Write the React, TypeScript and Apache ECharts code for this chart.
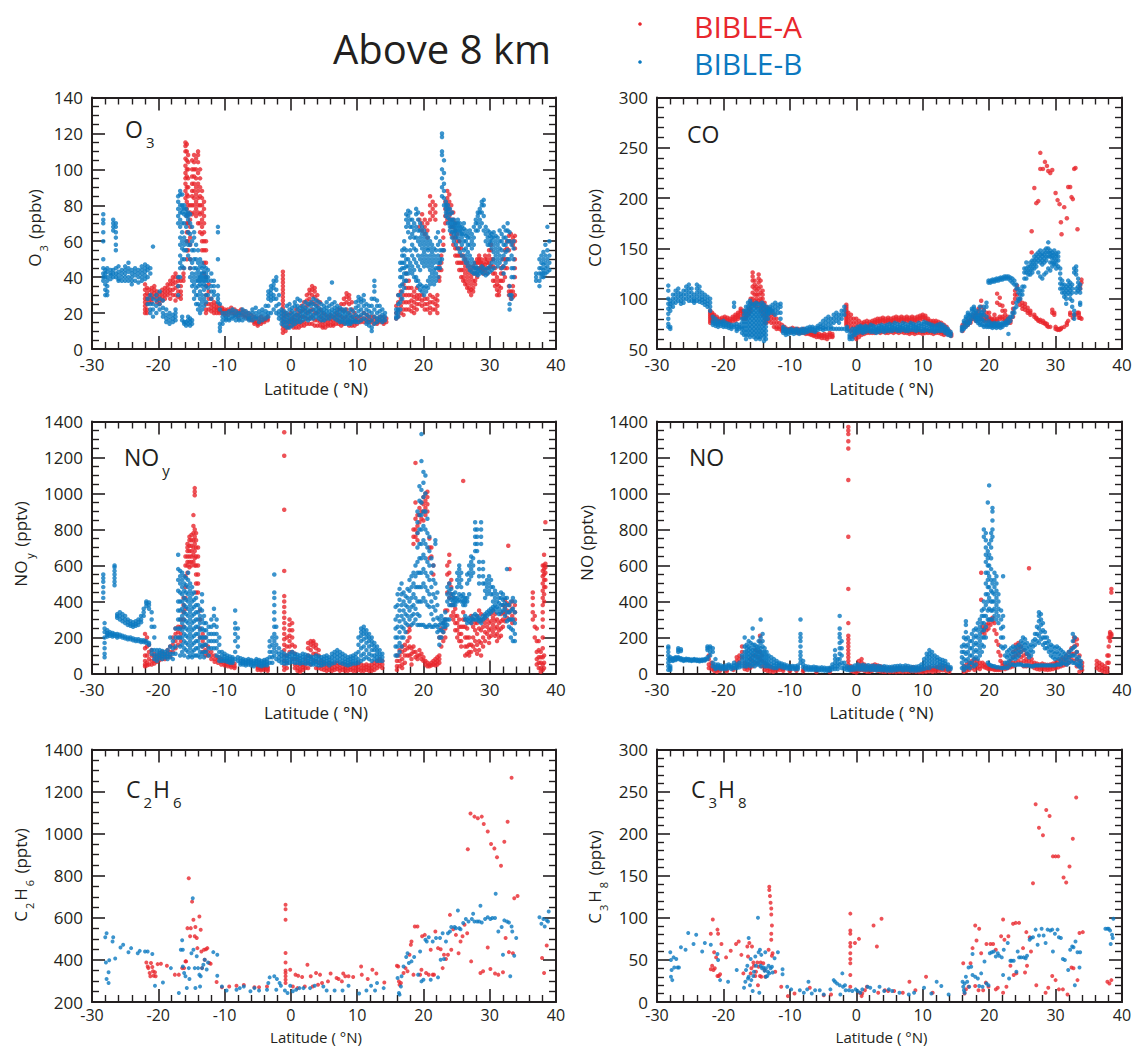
import { useEffect, useRef } from 'react';
import * as echarts from 'echarts';

type Column = [number, number[]];
type Pt = [number, number];

const RED = '#e8272d';
const BLUE = '#0b79c0';
const INK = '#231f20';
const FONT = '"Open Sans", "Noto Sans", sans-serif';

const latTicks = { min: -30, max: 40, step: 10 };

// ---------- O3 (ppbv): latitude -> readings ----------
const o3A: Column[] = [
  [-22.0, [36, 33, 30, 28, 26, 24, 22, 20]], [-21.7, [34, 31, 28, 25, 22, 20]], [-21.4, [33, 30, 28, 26]],
  [-21.0, [34, 32, 30, 28, 26]], [-20.6, [35, 33, 31, 29]], [-20.2, [32, 30, 28, 26]], [-19.8, [31, 29, 27, 25]],
  [-19.4, [33, 31, 29, 27]], [-19.0, [34, 32, 30, 28]], [-18.6, [36, 34, 32, 30]], [-18.2, [38, 36, 33, 31, 28]],
  [-17.8, [40, 38, 36, 33, 30]], [-17.4, [42, 40, 37, 34, 30, 27]], [-17.0, [40, 38, 35, 32, 29]],
  [-16.6, [38, 35, 32, 30, 28]], [-16.2, [45, 42, 40, 38]],
  [-15.9, [115, 113, 110, 106, 102, 98, 95, 92, 88, 84]],
  [-15.7, [114, 110, 105, 100, 96, 90, 86, 82, 78, 74, 70, 65, 60, 55, 50]],
  [-15.5, [108, 104, 100, 95, 90, 85, 80, 75, 70, 65, 60, 55]], [-15.2, [80, 76, 72, 68, 62, 58, 50, 45]],
  [-14.9, [105, 100, 96, 92, 88, 85, 80, 75]], [-14.6, [108, 104, 100, 96, 92, 88, 84, 80, 76]],
  [-14.3, [106, 100, 95, 90, 86, 82, 78, 74]], [-14.0, [110, 108, 104, 98, 92, 88, 84, 80, 76, 70]],
  [-13.7, [100, 95, 90, 85, 80, 75, 70, 65]], [-13.4, [88, 84, 80, 76, 72, 68, 64, 60, 55]],
  [-13.1, [82, 78, 74, 70, 65, 60, 55, 48, 42]], [-12.8, [60, 55, 48, 40, 35, 30, 25, 22, 20]],
  [-12.4, [36, 32, 28, 25, 22]], [-12.0, [28, 25, 23, 21]], [-11.6, [26, 24, 22, 20]], [-11.2, [25, 23, 22, 20]],
  [-10.8, [24, 22, 21, 20]], [-10.4, [23, 22, 21, 20]], [-10.0, [22, 21, 20, 19]], [-9.5, [22, 21, 19]],
  [-9.0, [23, 21, 20]], [-8.5, [22, 20, 19]], [-8.0, [21, 20, 18]], [-7.5, [22, 20, 19]], [-7.0, [21, 19, 18]],
  [-6.5, [20, 18, 17]], [-6.0, [19, 17, 16]], [-5.5, [18, 16, 15, 14]], [-5.0, [17, 15, 14, 13]],
  [-4.5, [18, 16, 15, 14]], [-4.0, [17, 16, 15]], [-3.5, [18, 17, 16]],
  [-1.2, [43, 41, 39, 37, 35, 33, 31, 29, 27, 25, 23, 21, 19, 17, 15, 13, 11, 9]],
  [-0.8, [20, 18, 15, 12, 10]], [-0.4, [19, 16, 14, 12]], [0.0, [20, 17, 15, 13]], [0.4, [18, 16, 14, 12]],
  [0.8, [22, 19, 16, 14, 12]], [1.2, [20, 18, 16, 14, 12]], [1.6, [24, 21, 18, 15, 13]], [2.0, [26, 22, 18, 15, 13]],
  [2.4, [30, 27, 24, 20, 17, 14]], [2.8, [33, 31, 28, 25, 21, 17, 14]], [3.2, [35, 33, 30, 26, 22, 18, 14]],
  [3.6, [34, 32, 29, 25, 20, 16, 13]], [4.0, [30, 27, 24, 20, 16, 13]], [4.4, [26, 22, 18, 15, 13]],
  [4.8, [20, 17, 15, 13, 12]], [5.2, [19, 16, 14, 12]], [5.6, [18, 16, 14, 13]], [6.0, [19, 17, 15, 13]],
  [6.4, [18, 16, 14, 13]], [6.8, [20, 18, 16, 14]], [7.2, [22, 19, 16, 14]], [7.6, [25, 22, 18, 15, 13]],
  [8.0, [28, 25, 21, 17, 14]], [8.4, [31, 29, 26, 22, 18, 15]], [8.8, [30, 28, 25, 20, 16, 13]],
  [9.2, [26, 22, 18, 15, 13]], [9.6, [20, 17, 15, 13]], [10.0, [18, 16, 14]], [10.5, [18, 16, 15]],
  [11.0, [20, 17, 15]], [11.5, [19, 17, 15]], [12.0, [18, 16, 15]], [12.5, [18, 16, 14]], [13.0, [17, 15, 14]],
  [13.5, [18, 16, 15]], [14.0, [18, 16, 15, 14]], [14.4, [17, 15]],
  [15.9, [24, 20, 17]], [16.2, [30, 26, 22, 18]], [16.6, [32, 28, 24, 20]], [17.0, [36, 30, 26, 22, 19]],
  [17.4, [42, 38, 34, 30, 26, 22]], [17.8, [38, 34, 30, 26, 22]], [18.2, [34, 30, 27, 24, 21]],
  [18.6, [32, 29, 26, 23, 20]], [19.0, [34, 30, 28, 25, 22]], [19.4, [72, 68, 30, 28, 25]],
  [19.8, [75, 70, 66, 30, 27, 24]], [20.2, [72, 68, 64, 28, 25, 22]], [20.6, [70, 66, 62, 28, 25, 22]],
  [21.0, [85, 80, 76, 72, 30, 26, 23, 20]], [21.4, [82, 78, 74, 29, 26, 22]], [21.8, [80, 76, 72, 28, 25, 22]],
  [22.1, [30, 27, 24, 20]], [22.4, [46, 44, 40, 38]], [22.7, [52, 48, 44]], [23.0, [66, 62, 58, 55]],
  [23.3, [82, 78, 74, 70]], [23.6, [88, 84, 80, 76, 72]], [23.9, [86, 82, 78, 74]], [24.2, [80, 76, 72, 68, 64]],
  [24.5, [76, 72, 68, 62, 58]], [24.8, [70, 66, 62, 56, 52]], [25.1, [64, 60, 56, 52, 48]],
  [25.4, [60, 56, 52, 48, 44]], [25.7, [56, 52, 48, 44, 40]], [26.0, [52, 48, 44, 40, 38]],
  [26.3, [50, 46, 42, 38, 36]], [26.6, [48, 44, 40, 36, 34]], [26.9, [46, 42, 38, 34, 32]],
  [27.2, [44, 40, 36, 33, 30]], [27.5, [46, 42, 38, 34, 32]], [27.8, [48, 45, 42, 38, 36]],
  [28.1, [50, 48, 45, 42, 40]], [28.4, [52, 50, 48, 45]], [28.7, [50, 48, 46, 44]], [29.0, [48, 46, 44, 42]],
  [29.3, [52, 50, 47, 44]], [29.6, [50, 48, 45, 42]], [29.9, [55, 52, 48, 45]], [30.2, [58, 55, 50, 46]],
  [30.5, [50, 46, 42, 38]], [30.8, [45, 42, 38, 35]], [31.1, [40, 36, 33, 30]], [31.4, [38, 35, 32, 30]],
  [31.7, [45, 42, 38, 34]], [32.0, [50, 46, 42, 38]], [32.3, [55, 50, 45, 40]], [32.6, [60, 56, 50, 45]],
  [32.9, [63, 60, 55, 35, 32, 30]], [33.2, [64, 60, 32, 30, 28]], [33.5, [62, 58, 35, 32, 29]],
  [33.8, [63, 60, 56, 50, 45, 40, 30]],
];

const o3B: Column[] = [
  [-28.3, [75, 72, 70, 65, 60, 50, 45, 42, 40, 38]], [-28.0, [44, 42, 40, 36, 33, 30]],
  [-27.7, [45, 43, 40, 38, 35, 32, 30]], [-27.2, [44, 42, 41, 39]], [-26.8, [72, 70, 68, 66, 44, 42, 40]],
  [-26.4, [70, 68, 65, 62, 58, 55, 45, 42, 40]], [-26.0, [46, 43, 41, 39, 38]], [-25.5, [44, 42, 40, 38]],
  [-25.0, [46, 44, 42, 40, 38]], [-24.5, [48, 45, 43, 40, 38]], [-24.0, [44, 42, 40, 38, 36]],
  [-23.5, [45, 43, 41, 38]], [-23.0, [44, 42, 40, 37]], [-22.5, [46, 44, 42, 40, 38]],
  [-22.0, [47, 45, 43, 41, 39]], [-21.6, [46, 44, 40, 28, 25]], [-21.2, [45, 42, 30, 25, 22, 20]],
  [-20.8, [57, 28, 25, 22, 18]], [-20.3, [30, 27, 24, 20]], [-19.8, [32, 28, 25, 22]], [-19.3, [27, 23, 20, 18]],
  [-18.8, [22, 19, 17, 15]], [-18.3, [20, 18, 16, 14]], [-17.8, [19, 17, 15]], [-17.4, [22, 20, 18, 16]],
  [-17.0, [85, 82, 78, 74, 70, 40, 35, 30]], [-16.7, [88, 86, 80, 76, 72, 68, 62, 58, 52, 48, 45, 40]],
  [-16.4, [86, 80, 78, 76, 70, 65, 60, 56, 50, 46, 18, 16]],
  [-16.1, [80, 78, 75, 70, 62, 58, 55, 50, 45, 15, 14]], [-15.8, [78, 76, 74, 68, 60, 55, 15, 13]],
  [-15.5, [76, 74, 72, 65, 58, 52, 18, 16, 14]], [-15.2, [75, 70, 64, 58, 50, 45, 40, 17, 15, 13]],
  [-14.9, [68, 60, 55, 48, 42, 38, 35, 16, 14]], [-14.6, [65, 62, 55, 50, 45, 40, 36, 32, 28]],
  [-14.3, [58, 50, 45, 42, 38, 34, 30, 25]], [-14.0, [55, 48, 44, 40, 38, 35, 30, 25, 22]],
  [-13.7, [50, 46, 42, 40, 38, 36, 32, 28, 24, 20]], [-13.4, [48, 45, 42, 40, 38, 35, 30, 26, 22]],
  [-13.1, [46, 43, 40, 38, 36, 33, 28, 24]], [-12.8, [45, 42, 40, 38, 35, 30, 26]],
  [-12.5, [44, 40, 38, 34, 30]], [-12.0, [42, 38, 35, 32, 28]], [-11.6, [38, 35, 32, 30]],
  [-11.0, [68, 65, 50, 35, 30, 28, 26]], [-10.7, [25, 22, 14, 12, 10]], [-10.3, [20, 18, 16, 14]],
  [-9.8, [20, 18, 17, 16]], [-9.3, [21, 19, 17, 16]], [-8.8, [22, 20, 18, 17]], [-8.3, [21, 19, 18, 16]],
  [-7.8, [20, 19, 17, 16]], [-7.3, [22, 20, 18, 16]], [-6.8, [21, 19, 17]], [-6.3, [20, 18, 17, 16]],
  [-5.8, [22, 20, 18, 16]], [-5.3, [23, 20, 18, 17]], [-4.8, [21, 19, 17, 15]], [-4.3, [22, 20, 18, 16]],
  [-3.8, [24, 21, 19, 17]], [-3.4, [32, 30, 28, 24, 20, 18]], [-3.0, [35, 33, 31, 29, 27, 20]],
  [-2.6, [38, 36, 34, 30, 28, 22]], [-2.2, [40, 38, 33, 28, 24, 20]], [-1.8, [30, 25, 21, 19, 17]],
  [-1.4, [22, 20, 18, 16, 14]], [-1.0, [21, 19, 17, 15, 13]], [-0.6, [24, 20, 18, 16, 14, 12]],
  [-0.2, [25, 22, 19, 17, 15, 12]], [0.2, [23, 21, 19, 17, 15, 13]], [0.6, [26, 24, 20, 18, 16, 14]],
  [1.0, [28, 24, 22, 19, 17, 15]], [1.4, [27, 23, 21, 19, 17, 15]], [1.8, [24, 22, 20, 18, 16]],
  [2.2, [26, 23, 21, 19, 17]], [2.6, [25, 22, 20, 18, 16]], [3.0, [26, 24, 21, 19, 17]],
  [3.4, [28, 25, 22, 19, 17]], [3.8, [27, 24, 22, 20, 18]], [4.2, [26, 23, 21, 19, 17]],
  [4.6, [25, 22, 20, 18, 16]], [5.0, [24, 22, 20, 18, 16]], [5.4, [26, 23, 21, 19, 17]],
  [5.8, [28, 24, 21, 19, 17]], [6.2, [37, 25, 22, 20, 18]], [6.6, [26, 23, 21, 19, 17]],
  [7.0, [24, 22, 20, 18, 16]], [7.4, [23, 21, 19, 17, 15]], [7.8, [22, 20, 18, 16, 15]],
  [8.2, [22, 20, 18, 16, 14]], [8.6, [20, 18, 16, 15, 14]], [9.0, [22, 19, 17, 15, 14]], [9.4, [21, 18, 16, 15]],
  [9.8, [26, 23, 19, 16, 15]], [10.2, [29, 27, 24, 21, 18, 15]], [10.6, [28, 26, 22, 19, 16]],
  [11.0, [30, 27, 24, 20, 17]], [11.4, [25, 22, 19, 16, 14]], [11.8, [24, 21, 18, 15, 13]],
  [12.2, [28, 24, 20, 16, 12, 10]], [12.6, [38, 35, 32, 28, 22, 18, 14]], [13.0, [27, 24, 20, 17, 15]],
  [13.4, [24, 21, 18, 16]], [13.8, [22, 19, 17, 15]], [14.2, [20, 18, 16]],
  [15.9, [22, 20, 18, 17]], [16.2, [30, 25, 22, 20, 18]], [16.5, [48, 44, 40, 35, 30, 26, 22]],
  [16.8, [55, 52, 48, 45, 40, 36, 32, 28]], [17.1, [60, 56, 52, 48, 45, 42, 38, 34]],
  [17.4, [75, 72, 68, 55, 50, 46, 42, 38]], [17.7, [77, 74, 70, 65, 50, 46, 42]],
  [18.0, [76, 72, 68, 62, 55, 48, 44]], [18.3, [72, 68, 64, 58, 52, 46, 42]], [18.6, [70, 66, 62, 56, 50, 44, 40]],
  [18.9, [78, 75, 68, 62, 55, 48, 40, 38]], [19.2, [76, 72, 66, 60, 52, 46, 38, 35]],
  [19.5, [70, 66, 62, 58, 50, 44, 36, 33]], [19.8, [68, 64, 60, 56, 52, 48, 35, 32]],
  [20.1, [66, 62, 58, 54, 50, 46, 34, 30]], [20.4, [64, 60, 56, 52, 48, 35, 32]],
  [20.7, [62, 58, 55, 50, 46, 38, 34]], [21.0, [60, 56, 52, 48, 44, 40, 36]], [21.3, [58, 54, 50, 46, 42, 38]],
  [21.6, [56, 52, 48, 44, 40, 36]], [21.9, [62, 55, 50, 45, 42, 38]], [22.2, [65, 58, 52, 48, 45, 40]],
  [22.5, [60, 55, 50, 48, 45]], [22.8, [120, 118, 110, 108, 100, 95, 90, 85, 55, 50]],
  [23.1, [105, 98, 92, 88, 84, 80, 55]], [23.4, [82, 80, 78, 76, 74]], [23.7, [80, 78, 76, 73, 70]],
  [24.0, [78, 75, 72, 70, 68, 66]], [24.3, [76, 72, 70, 68, 65, 62]], [24.6, [72, 70, 68, 66, 64, 60]],
  [24.9, [70, 68, 66, 64, 62, 58]], [25.2, [72, 70, 68, 66, 62, 56]], [25.5, [70, 68, 66, 64, 60, 54]],
  [25.8, [68, 66, 64, 62, 58, 52]], [26.1, [70, 67, 64, 60, 55, 50]], [26.4, [66, 63, 60, 56, 52, 48]],
  [26.7, [64, 62, 58, 54, 50, 46]], [27.0, [66, 62, 58, 52, 48, 44]], [27.3, [64, 60, 56, 50, 46, 43]],
  [27.6, [68, 62, 58, 48, 45, 42]], [27.9, [72, 70, 66, 46, 44, 42]], [28.2, [76, 74, 70, 66, 45, 43, 41]],
  [28.5, [78, 76, 72, 68, 44, 42]], [28.8, [82, 80, 76, 70, 46, 43]], [29.1, [83, 80, 74, 66, 45, 42]],
  [29.4, [68, 64, 60, 44, 41]], [29.7, [66, 62, 58, 45, 42]], [30.0, [65, 63, 60, 58, 46, 43]],
  [30.3, [64, 62, 60, 56, 48, 44]], [30.6, [65, 62, 58, 54, 50, 45]], [30.9, [63, 60, 56, 52, 48]],
  [31.2, [62, 58, 54, 50, 46]], [31.5, [66, 60, 56, 52, 48]], [31.8, [64, 60, 55, 50, 45]],
  [32.1, [68, 62, 58, 52, 46, 42]], [32.4, [66, 62, 58, 54, 48]], [32.7, [70, 66, 60, 55, 50]],
  [33.0, [65, 60, 50, 35, 30, 25, 22]], [33.3, [58, 52, 45, 40, 30, 28]], [33.6, [60, 56, 50, 45, 40]],
  [37.0, [42, 40, 38]], [37.5, [50, 45, 42, 38, 35]], [37.8, [52, 48, 45, 42, 40]],
  [38.1, [54, 50, 47, 44, 42, 40]], [38.4, [58, 52, 48, 45, 42]], [38.7, [68, 55, 50, 46, 43]],
  [39.0, [60, 52, 48, 44]],
];

// ---------- CO (ppbv) ----------
const coA: Column[] = [
  [-22.0, [88, 86, 84, 82, 80, 78, 76]], [-21.7, [86, 84, 82, 80, 78]], [-21.4, [84, 82, 80, 78]],
  [-21.0, [82, 80, 78, 76]], [-20.6, [80, 78, 77]], [-20.2, [81, 79, 77]], [-19.8, [82, 80, 78]],
  [-19.4, [81, 79, 77]], [-19.0, [80, 78, 76]], [-18.6, [82, 80, 78]], [-18.2, [84, 82, 80, 78]],
  [-17.8, [86, 84, 82, 80]], [-17.4, [90, 88, 86, 82]], [-17.0, [88, 86, 84, 80]], [-16.6, [86, 84, 82, 80]],
  [-16.2, [90, 88, 86, 84]], [-15.9, [100, 96, 92, 88]], [-15.6, [126, 122, 118, 112, 106, 100, 96]],
  [-15.3, [118, 114, 110, 104, 98, 94]], [-15.0, [112, 108, 104, 100, 96, 92]],
  [-14.7, [124, 120, 116, 110, 104, 98]], [-14.4, [118, 112, 106, 100, 96, 92, 88]],
  [-14.1, [108, 104, 100, 96, 92, 88, 84]], [-13.8, [96, 92, 88, 84, 80, 76]], [-13.5, [92, 88, 84, 80, 76]],
  [-13.2, [90, 86, 82, 78]], [-12.8, [88, 84, 80, 76]], [-12.4, [84, 80, 76, 72]], [-12.0, [80, 76, 72, 70]],
  [-11.6, [76, 72, 70]], [-11.2, [74, 70, 68]], [-10.8, [72, 70, 68]], [-10.4, [70, 68, 67]], [-10.0, [70, 69, 67]],
  [-9.6, [71, 69, 67]], [-9.2, [70, 68, 67]], [-8.8, [70, 68, 66]], [-8.4, [69, 67, 66]], [-8.0, [70, 68, 66]],
  [-7.6, [69, 67, 65]], [-7.2, [68, 66, 65]], [-6.8, [67, 65, 64]], [-6.4, [66, 64, 63]], [-6.0, [66, 64, 62]],
  [-5.6, [65, 63, 62]], [-5.2, [64, 63, 61]], [-4.8, [65, 63, 61]], [-4.4, [64, 62, 60]], [-4.0, [66, 64, 62]],
  [-3.6, [65, 63, 62]], [-1.5, [94, 92, 90, 88, 86, 84, 82, 80, 78, 76, 74]], [-1.2, [86, 82, 78, 74, 70]],
  [-0.8, [84, 80, 76, 72, 68]], [-0.4, [80, 76, 72, 68, 64, 62]], [0.0, [80, 76, 72, 68, 64, 60]],
  [0.4, [78, 74, 70, 66, 62]], [0.8, [76, 74, 70, 66, 64]], [1.2, [77, 75, 71, 67, 65]],
  [1.6, [78, 75, 72, 68, 66]], [2.0, [77, 75, 73, 68, 66]], [2.4, [78, 76, 74, 68, 66]],
  [2.8, [79, 77, 75, 68, 66]], [3.2, [80, 78, 76, 69, 67]], [3.6, [80, 78, 76, 68, 66]],
  [4.0, [81, 79, 77, 69, 67]], [4.4, [80, 78, 76, 68, 66]], [4.8, [81, 79, 77, 68, 66]],
  [5.2, [80, 78, 76, 69, 67]], [5.6, [81, 79, 77, 68, 66]], [6.0, [82, 80, 78, 69, 67]],
  [6.4, [81, 79, 77, 68, 66]], [6.8, [82, 80, 78, 69, 67]], [7.2, [81, 79, 77, 68, 66]],
  [7.6, [82, 80, 78, 68, 66]], [8.0, [81, 79, 77, 67, 65]], [8.4, [82, 80, 78, 68, 66]],
  [8.8, [81, 79, 77, 67, 65]], [9.2, [82, 80, 78, 68, 66]], [9.6, [83, 81, 79, 68, 66]],
  [10.0, [84, 82, 80, 67, 65]], [10.4, [83, 81, 79, 68, 66]], [10.8, [80, 78, 76, 68, 66]],
  [11.2, [78, 76, 74, 68, 66]], [11.6, [78, 76, 74, 67, 65]], [12.0, [78, 76, 74, 68, 66]],
  [12.4, [77, 75, 73, 68, 66]], [12.8, [76, 74, 72, 67, 65]], [13.2, [74, 72, 70, 66, 64]],
  [13.6, [72, 70, 68, 65]], [14.0, [68, 66, 64]], [14.3, [65, 63]],
  [16.0, [74, 72, 70, 68]], [16.4, [76, 74, 72]], [16.8, [78, 76, 74]], [17.2, [80, 78, 76]], [17.6, [84, 82, 80]],
  [18.0, [86, 84, 80, 78]], [18.4, [90, 88, 84, 80]], [18.8, [98, 92, 82, 80]], [19.2, [89, 84, 80, 78]],
  [19.6, [86, 82, 80, 78]], [20.0, [86, 82, 80, 78]], [20.4, [80, 79, 78, 76]], [20.8, [84, 80, 78, 76]],
  [21.2, [105, 96, 80, 78]], [21.6, [101, 94, 82, 80]], [22.0, [93, 88, 82, 80]], [22.4, [88, 84, 80, 78]],
  [22.8, [82, 80, 78, 76]], [23.2, [79, 78, 76]], [23.6, [96, 90, 86, 82]], [23.9, [108, 104, 100]],
  [24.2, [113, 110, 104]], [24.6, [100, 98, 94]], [25.0, [96, 93, 90]], [25.4, [95, 92, 89]], [25.8, [91, 88, 86]],
  [26.2, [88, 86, 84]], [26.4, [167, 146]], [26.8, [84, 82, 210]], [27.1, [195, 81, 80]], [27.4, [197, 79, 78]],
  [27.7, [229, 245, 79, 77]], [28.1, [229, 78, 76]], [28.4, [236, 76, 75]], [28.7, [232, 75, 73]],
  [28.9, [227, 72]], [29.2, [225, 72]], [29.5, [228, 89, 86]], [29.8, [86, 84]], [30.0, [205, 72, 70]],
  [30.3, [198, 70, 69]], [30.6, [194, 70, 69]], [30.8, [176, 70]], [30.9, [164, 71]], [31.3, [191, 72]],
  [31.7, [180, 76, 74]], [31.9, [211, 78]], [32.2, [211, 86, 84]], [32.4, [201]], [32.6, [199, 81]],
  [32.8, [229, 84]], [33.0, [230, 84]], [33.3, [169, 86]], [33.5, [86, 84, 81]], [33.7, [113, 110, 81]],
  [33.9, [119, 116, 80]],
];

const coB: Column[] = [
  [-28.3, [113, 108, 100, 95, 90, 85, 80, 75, 72]], [-28.0, [98, 95, 92, 88, 72, 70]],
  [-27.6, [104, 100, 96, 92]], [-27.2, [108, 104, 100, 96]], [-26.8, [110, 106, 102, 98]],
  [-26.4, [105, 102, 98, 95]], [-26.0, [108, 104, 100, 96]], [-25.6, [112, 108, 104, 100]],
  [-25.2, [114, 110, 106, 102, 98]], [-24.8, [110, 106, 102, 98]], [-24.4, [104, 100, 98, 96]],
  [-24.0, [114, 110, 106, 102, 98]], [-23.6, [112, 108, 104, 100, 97]], [-23.2, [106, 102, 99, 96]],
  [-22.8, [104, 100, 97, 94]], [-22.4, [102, 98, 95, 92]], [-22.0, [100, 96, 92, 88]],
  [-21.6, [82, 78, 76, 74]], [-21.2, [80, 77, 75, 73]], [-20.8, [78, 76, 74, 72]], [-20.4, [77, 75, 73]],
  [-20.0, [78, 76, 74, 72]], [-19.6, [76, 74, 72]], [-19.2, [75, 73, 71]], [-18.8, [74, 72, 70]],
  [-18.4, [96, 92, 74, 72]], [-18.0, [75, 72, 70, 68]], [-17.6, [74, 72, 70]], [-17.2, [80, 76, 72, 70, 66]],
  [-16.9, [88, 84, 80, 76, 72, 68, 64]], [-16.6, [92, 88, 84, 80, 76, 72, 68, 64, 60]],
  [-16.3, [96, 92, 88, 84, 80, 76, 72, 68, 64]], [-16.0, [98, 94, 90, 86, 82, 78, 74, 70, 66, 62]],
  [-15.7, [95, 92, 88, 84, 80, 76, 72, 68, 64]], [-15.4, [94, 90, 86, 82, 78, 74, 70, 66, 62]],
  [-15.1, [96, 92, 88, 84, 80, 76, 72, 68, 64, 60]], [-14.8, [95, 90, 86, 82, 78, 74, 70, 66, 62]],
  [-14.5, [94, 90, 86, 82, 78, 74, 70, 66, 62, 60]], [-14.2, [96, 92, 88, 84, 80, 76, 72, 68, 64]],
  [-13.9, [94, 90, 86, 82, 78, 74, 70, 66, 62, 58]], [-13.6, [92, 88, 84, 80, 76, 72, 68, 64, 60]],
  [-13.3, [90, 88, 86, 84, 80]], [-13.0, [92, 90, 88, 86]], [-12.6, [94, 90, 88, 86]],
  [-12.2, [96, 92, 88, 84]], [-11.8, [94, 90, 86]], [-11.4, [95, 92, 86, 80]], [-11.0, [72, 70, 68, 66]],
  [-10.6, [70, 68, 66, 64]], [-10.2, [69, 67, 65]], [-9.8, [70, 68, 66]], [-9.4, [69, 67, 65]],
  [-9.0, [70, 68, 66]], [-8.6, [69, 67, 65]], [-8.2, [70, 68, 66]], [-7.8, [70, 68, 66]], [-7.4, [71, 69, 67]],
  [-7.0, [72, 70, 68]], [-6.6, [72, 70, 68]], [-6.2, [71, 69, 67]], [-5.8, [73, 71, 69]], [-5.4, [75, 72, 70]],
  [-5.0, [78, 74, 71, 69]], [-4.6, [80, 76, 72, 70]], [-4.2, [82, 78, 74, 70]], [-3.8, [80, 76, 72, 70]],
  [-3.4, [84, 80, 76, 70]], [-3.0, [86, 82, 78, 70]], [-2.6, [84, 80, 76, 70]], [-2.2, [88, 84, 80, 70]],
  [-1.8, [92, 88, 84, 70]], [-1.4, [72, 70, 68]], [-1.0, [68, 64, 62, 60]], [-0.6, [70, 66, 63, 60]],
  [-0.2, [70, 68, 66, 64]], [0.2, [72, 70, 68, 66]], [0.6, [73, 71, 69, 67]], [1.0, [72, 70, 68, 66]],
  [1.4, [73, 71, 69, 67]], [1.8, [72, 70, 68]], [2.2, [74, 71, 69, 67]], [2.6, [73, 71, 69, 67]],
  [3.0, [72, 70, 68, 66]], [3.4, [73, 71, 69, 67]], [3.8, [74, 72, 70, 68]], [4.2, [73, 71, 69, 67]],
  [4.6, [74, 72, 70, 68]], [5.0, [75, 72, 70, 68]], [5.4, [74, 72, 70, 68]], [5.8, [76, 73, 71, 69]],
  [6.2, [75, 72, 70, 68]], [6.6, [74, 72, 70, 68]], [7.0, [76, 73, 71, 69]], [7.4, [75, 72, 70, 68]],
  [7.8, [74, 72, 70, 68]], [8.2, [76, 74, 71, 69]], [8.6, [75, 73, 71, 69]], [9.0, [74, 72, 70, 68]],
  [9.4, [76, 73, 71, 69]], [9.8, [75, 73, 70, 68]], [10.2, [77, 75, 72, 70, 68]], [10.6, [76, 74, 71, 69]],
  [11.0, [75, 73, 70, 68]], [11.4, [74, 72, 70, 68]], [11.8, [73, 71, 69, 67]], [12.2, [74, 72, 70, 68]],
  [12.6, [75, 72, 70, 68]], [13.0, [74, 72, 70, 68]], [13.4, [72, 70, 68, 66]], [13.8, [70, 68, 66, 64]],
  [14.2, [67, 65, 63]], [15.9, [72, 70, 68]], [16.2, [78, 76, 72, 70]], [16.5, [82, 80, 76, 72]],
  [16.8, [86, 84, 80, 76, 74]], [17.1, [84, 82, 78, 76]], [17.4, [90, 88, 84, 80]], [17.7, [92, 90, 86, 82]],
  [18.0, [88, 86, 82, 80, 78]], [18.3, [84, 82, 80, 78, 76]], [18.6, [92, 88, 84, 80, 76, 74]],
  [18.9, [86, 84, 80, 78, 74]], [19.2, [92, 88, 84, 78, 74, 72]], [19.6, [96, 92, 82, 76, 74, 72]],
  [19.9, [118, 116, 78, 74, 72]], [20.2, [118, 116, 76, 74, 72]], [20.5, [119, 117, 75, 73, 71]],
  [20.8, [119, 117, 76, 74, 72]], [21.1, [120, 118, 75, 73, 71]], [21.4, [120, 118, 76, 74, 72]],
  [21.7, [121, 119, 75, 73, 71]], [22.0, [121, 119, 76, 74, 72]], [22.3, [122, 120, 76, 74]],
  [22.6, [122, 120, 78, 76, 74]], [22.9, [122, 120, 80, 76, 65]], [23.2, [121, 118, 82, 78]],
  [23.5, [120, 116, 86, 82]], [23.8, [118, 114, 90, 86]], [24.1, [114, 110, 96, 92]],
  [24.4, [110, 106, 100, 98]], [24.7, [108, 104, 100]], [25.0, [112, 108, 104]], [25.3, [130, 126, 120, 112]],
  [25.6, [136, 130, 126, 120]], [25.9, [132, 128, 124]], [26.2, [136, 132, 128, 124]],
  [26.5, [138, 134, 130, 126]], [26.8, [142, 138, 134, 130]], [27.1, [144, 140, 136, 132]],
  [27.4, [146, 142, 138, 126]], [27.7, [148, 144, 140, 136, 122]], [28.0, [145, 142, 138, 134, 120]],
  [28.3, [148, 144, 140, 136, 124]], [28.6, [150, 146, 142, 138, 126]], [28.9, [156, 150, 146, 142, 130]],
  [29.2, [148, 145, 142, 136, 128]], [29.5, [146, 143, 140, 136, 132]], [29.8, [148, 144, 140, 136, 134]],
  [30.1, [145, 142, 138, 134, 130]], [30.4, [146, 142, 138, 132]], [30.7, [130, 125, 120, 115, 110]],
  [31.0, [118, 114, 110, 106]], [31.3, [114, 110, 106, 102]], [31.6, [112, 108, 104, 100, 95]],
  [31.9, [118, 114, 110, 106]], [32.2, [116, 112, 108, 104, 100]], [32.5, [114, 110, 106, 98, 92]],
  [32.8, [130, 126, 88, 84, 80]], [33.1, [132, 128, 124, 110, 106]], [33.4, [120, 116, 112, 108]],
  [33.7, [114, 110, 106, 96, 94]],
];

// ---------- NOy (pptv) ----------
const noyA: Column[] = [
  [-22.0, [220, 180, 140, 100, 70, 50, 40]], [-21.7, [200, 150, 100, 60, 45]], [-21.4, [160, 120, 80, 50]],
  [-21.0, [130, 100, 70, 50]], [-20.6, [110, 90, 70, 55]], [-20.2, [100, 80, 65]], [-19.8, [110, 90, 75]],
  [-19.4, [120, 100, 80]], [-19.0, [110, 95, 80]], [-18.6, [130, 110, 90]], [-18.2, [150, 120, 95]],
  [-17.8, [200, 160, 120]], [-17.4, [250, 220, 180, 140]], [-17.0, [260, 230, 200, 160]],
  [-16.6, [300, 260, 220, 180]], [-16.2, [420, 380, 340, 300, 260]], [-15.9, [650, 600, 540, 480, 420, 360]],
  [-15.6, [720, 700, 680, 650, 620, 600, 560]], [-15.3, [760, 740, 710, 680, 650, 620, 590]],
  [-15.0, [770, 740, 710, 680, 650, 620, 600]], [-14.7, [880, 820, 780, 740, 700, 660, 620]],
  [-14.5, [1030, 1010, 990, 800, 760, 720, 680, 640, 600]], [-14.3, [780, 740, 700, 650, 600, 550, 500, 450]],
  [-14.0, [700, 650, 600, 550, 500, 450]], [-13.7, [350, 300, 250, 200]], [-13.3, [220, 180, 150, 120]],
  [-12.9, [200, 160, 130, 100]], [-12.5, [150, 120, 100]], [-12.0, [120, 100, 80]], [-11.5, [100, 80, 65]],
  [-11.0, [90, 75, 60]], [-10.5, [80, 65, 50]], [-10.0, [70, 55, 45]], [-9.5, [65, 50, 40]], [-9.0, [60, 45, 35]],
  [-8.5, [55, 40, 30]], [-5.0, [40, 30, 20]], [-4.5, [35, 25, 18]], [-4.0, [40, 30, 20]], [-3.5, [35, 25, 15]],
  [-1.0, [1340, 1210, 910, 570, 430, 400, 370, 340, 310, 280, 250, 220, 190, 160, 130, 100, 70, 40, 20]],
  [-0.6, [200, 150, 100, 60, 30]], [-0.2, [300, 270, 240, 210, 180, 150, 120]],
  [0.2, [280, 240, 200, 160, 120, 80]], [0.6, [150, 110, 80, 50, 30]], [1.0, [80, 50, 30, 15]],
  [1.4, [60, 40, 20, 10]], [1.8, [50, 35, 20]], [2.2, [80, 50, 30]], [2.6, [170, 140, 100, 60, 30]],
  [3.0, [180, 160, 130, 90, 50]], [3.4, [180, 170, 150, 110, 70]], [3.8, [160, 140, 110, 70, 30]],
  [4.2, [130, 100, 60, 30]], [4.6, [70, 45, 25]], [5.0, [60, 40, 20]], [5.4, [50, 30, 15]], [5.8, [60, 40, 20]],
  [6.2, [50, 30, 15]], [6.6, [55, 35, 20]], [7.0, [60, 40, 25]], [7.4, [50, 30, 15]], [7.8, [55, 35, 20]],
  [8.2, [50, 30, 15]], [8.6, [45, 30, 15]], [9.0, [55, 35, 20]], [9.4, [50, 30, 15]], [9.8, [45, 30, 15]],
  [10.2, [55, 35, 20]], [10.6, [50, 30, 15]], [11.0, [45, 30, 15]], [11.4, [50, 35, 20]], [11.8, [45, 30, 15]],
  [12.2, [50, 30, 15]], [12.6, [60, 40, 20]], [13.0, [70, 50, 30]], [13.4, [80, 60, 40]], [13.8, [70, 50, 30]],
  [16.0, [100, 70, 40, 20]], [16.4, [130, 100, 70, 40]], [16.8, [150, 120, 80, 50, 30]],
  [17.2, [160, 130, 100, 60]], [17.6, [230, 180, 140, 100]], [17.9, [260, 240, 200, 150, 100]],
  [18.2, [140, 110, 80, 50]], [18.5, [720, 760, 800, 150, 120]], [18.8, [1170, 950, 860, 800, 760, 120, 90]],
  [19.1, [880, 820, 780, 740, 100, 80]], [19.4, [920, 880, 840, 130, 100]], [19.7, [950, 900, 860, 110, 80]],
  [20.0, [980, 940, 900, 850, 90, 70]], [20.3, [1000, 960, 920, 880, 70, 50]],
  [20.6, [1010, 980, 940, 900, 60, 40]], [20.9, [750, 700, 640, 50, 40]], [21.2, [700, 650, 60, 45]],
  [21.5, [600, 550, 70, 50]], [21.8, [80, 60, 45]], [22.1, [90, 70, 50]], [22.4, [200, 100, 80, 60]],
  [22.7, [250, 200, 150]], [23.0, [280, 230, 180]], [23.3, [350, 300, 250, 200]], [23.6, [600, 550, 450, 350]],
  [23.9, [660, 620, 560, 500, 420]], [24.2, [520, 480, 440, 380, 320]], [24.5, [420, 380, 340, 300]],
  [24.8, [360, 320, 280, 240]], [25.1, [320, 280, 240, 200]], [25.4, [300, 260, 220, 180]],
  [25.7, [260, 220, 180, 150]], [26.0, [1070, 340, 300, 260]], [26.3, [300, 260, 200, 150, 100]],
  [26.6, [250, 200, 150, 110]], [26.9, [200, 160, 120, 100]], [27.2, [320, 280, 160, 120]],
  [27.5, [300, 260, 200, 150]], [27.8, [280, 240, 180, 130]], [28.1, [320, 280, 220, 160, 110]],
  [28.4, [350, 300, 250, 180, 130]], [28.7, [330, 290, 240, 170, 100]], [29.0, [300, 260, 200, 150]],
  [29.3, [320, 280, 230, 180]], [29.6, [300, 260, 220]], [29.9, [280, 240, 200, 170]],
  [30.2, [330, 290, 250, 210]], [30.5, [350, 310, 270, 230]], [30.8, [330, 290, 250, 210]],
  [31.1, [300, 260, 220, 180]], [31.4, [280, 240, 200]], [31.7, [330, 290, 250, 210]],
  [32.0, [380, 340, 300, 260]], [32.3, [410, 370, 330, 290]], [32.6, [390, 350, 310]], [32.8, [710]],
  [33.0, [580, 380, 340, 300]], [33.4, [400, 360, 320, 280]], [33.8, [380, 340, 300]],
  [36.5, [450, 420, 380, 340, 300]], [36.8, [320, 260, 200]], [37.1, [250, 180, 120, 80, 50]],
  [37.4, [180, 130, 90, 60, 30]], [37.7, [120, 90, 60, 30, 10]],
  [38.0, [600, 570, 540, 500, 460, 420, 380, 340, 300, 260, 200, 140, 90, 50, 20]],
  [38.2, [660, 600, 580, 550, 520, 480, 440, 400, 100, 60, 30]], [38.4, [840, 610, 590, 560, 520, 480]],
];

const noyB: Column[] = [
  [-28.3, [550, 530, 510, 480, 450, 420]], [-28.1, [280, 250, 230, 200, 170, 140, 110, 90]],
  [-27.7, [240, 225, 215, 205]], [-27.3, [230, 220, 210]], [-26.9, [225, 215, 205]],
  [-26.6, [600, 590, 570, 550, 530, 510, 490, 220, 210]], [-26.2, [330, 320, 310, 220, 210, 200]],
  [-25.8, [340, 320, 300, 215, 205]], [-25.4, [330, 310, 290, 210, 200]], [-25.0, [320, 300, 280, 205, 195]],
  [-24.6, [300, 285, 270, 200, 190]], [-24.2, [290, 275, 265, 200, 190]], [-23.8, [285, 270, 260, 195, 185]],
  [-23.4, [290, 275, 265, 190, 180]], [-23.0, [300, 285, 270, 190, 180]], [-22.6, [320, 300, 285, 185, 175]],
  [-22.2, [360, 340, 320, 185, 175]], [-21.8, [400, 390, 375, 180, 170]], [-21.4, [395, 380, 360, 170, 160]],
  [-21.0, [340, 300, 260, 130, 110]], [-20.6, [260, 200, 130, 100, 80]], [-20.2, [130, 110, 90, 70]],
  [-19.8, [130, 115, 100, 85]], [-19.4, [125, 110, 95, 80]], [-19.0, [120, 105, 90]],
  [-18.6, [130, 110, 95, 80]], [-18.2, [200, 150, 110, 90]], [-17.8, [180, 140, 110, 80]],
  [-17.4, [250, 200, 150, 110]], [-17.0, [660, 580, 520, 460, 400, 350, 300, 250, 200]],
  [-16.7, [570, 540, 500, 450, 400, 350, 300, 250, 200, 150, 100]],
  [-16.4, [560, 520, 480, 440, 400, 360, 320, 280, 240, 200, 160, 120]],
  [-16.1, [540, 500, 460, 420, 380, 340, 300, 260, 220, 180, 140, 100]],
  [-15.8, [530, 490, 450, 410, 370, 330, 290, 250, 210, 170, 130]],
  [-15.5, [560, 520, 480, 440, 400, 360, 320, 280, 240, 200, 160, 120, 90]],
  [-15.2, [500, 460, 420, 380, 340, 300, 260, 220, 180, 140, 100]],
  [-14.9, [480, 440, 400, 360, 320, 280, 240, 200, 160, 120, 90]],
  [-14.6, [450, 410, 370, 330, 290, 250, 210, 170, 130, 100]],
  [-14.3, [420, 380, 340, 300, 260, 220, 180, 140, 100]], [-14.0, [380, 340, 300, 260, 220, 180, 140, 100]],
  [-13.7, [360, 320, 280, 240, 200, 160, 120, 90]], [-13.4, [440, 400, 350, 300, 250, 200, 150, 110]],
  [-13.1, [320, 280, 240, 200, 160, 120, 90]], [-12.8, [280, 240, 200, 160, 120]],
  [-12.4, [260, 220, 180, 140, 100]], [-12.0, [300, 260, 220, 180, 140]], [-11.6, [360, 320, 270, 220, 180, 140]],
  [-11.2, [300, 260, 220, 180, 140, 100]], [-10.8, [200, 160, 120, 90, 70]], [-10.4, [120, 100, 80, 70]],
  [-10.0, [110, 95, 80, 70]], [-9.6, [100, 85, 75, 65]], [-9.2, [95, 80, 70, 60]], [-8.8, [90, 80, 70, 60]],
  [-8.4, [350, 280, 250, 220, 180, 120, 80]], [-8.0, [250, 200, 150, 90, 70]], [-7.6, [85, 70, 60, 50]],
  [-7.2, [80, 70, 60, 50]], [-6.8, [75, 65, 55, 45]], [-6.4, [80, 70, 60, 50]], [-6.0, [75, 65, 55, 45]],
  [-5.6, [70, 60, 50, 40]], [-5.2, [80, 70, 60, 50]], [-4.8, [75, 65, 55, 45]], [-4.4, [70, 60, 50, 40]],
  [-4.0, [75, 65, 55, 45]], [-3.6, [80, 65, 55, 45]], [-3.2, [180, 150, 120, 90, 60]],
  [-2.8, [200, 160, 120, 90, 60]], [-2.5, [550, 450, 420, 380, 340, 300, 260, 220, 180, 140, 100]],
  [-2.2, [260, 200, 160, 120, 80]], [-1.8, [140, 110, 90, 70]], [-1.4, [120, 100, 80, 60]],
  [-1.0, [110, 90, 70, 55]], [-0.6, [100, 85, 70, 55]], [-0.2, [110, 95, 80, 60]], [0.2, [120, 100, 80, 65]],
  [0.6, [110, 95, 80, 60]], [1.0, [105, 90, 75, 60]], [1.4, [100, 85, 70, 55]], [1.8, [110, 90, 75, 60]],
  [2.2, [105, 90, 70, 55]], [2.6, [100, 85, 70, 55]], [3.0, [95, 80, 65, 50]], [3.4, [90, 75, 60, 50]],
  [3.8, [100, 80, 65, 50]], [4.2, [95, 80, 60, 45]], [4.6, [90, 75, 60, 45]], [5.0, [95, 80, 65, 50]],
  [5.4, [100, 85, 70, 55]], [5.8, [90, 75, 60, 45]], [6.2, [110, 90, 70, 55]], [6.6, [120, 100, 80, 60]],
  [7.0, [130, 110, 90, 70]], [7.4, [120, 100, 80, 60]], [7.8, [110, 90, 70, 55]], [8.2, [100, 80, 65, 50]],
  [8.6, [90, 75, 60, 45]], [9.0, [95, 80, 65, 50]], [9.4, [100, 85, 70, 55]], [9.8, [110, 90, 70, 55]],
  [10.2, [200, 160, 120, 80, 60]], [10.6, [250, 230, 210, 180, 140, 100, 70]],
  [11.0, [260, 240, 220, 190, 150, 110, 80]], [11.4, [240, 220, 200, 170, 130, 90]],
  [11.8, [220, 200, 180, 150, 110, 80]], [12.2, [200, 180, 160, 130, 100, 70]], [12.6, [170, 150, 130, 100, 80]],
  [13.0, [150, 130, 110, 90, 70]], [13.4, [130, 110, 90, 70]], [13.8, [110, 90, 70]],
  [15.8, [370, 300, 250, 200, 150, 100]], [16.1, [440, 380, 320, 260, 200, 150, 100]],
  [16.4, [470, 410, 350, 290, 230, 170, 120]], [16.7, [500, 440, 380, 320, 260, 200, 150]],
  [17.0, [450, 400, 350, 300, 250, 200]], [17.3, [430, 380, 330, 280, 230]], [17.6, [470, 420, 370, 320, 270]],
  [17.9, [520, 460, 400, 350, 300]], [18.2, [540, 480, 420, 370, 320, 270]],
  [18.5, [560, 500, 440, 380, 330, 280]], [18.8, [600, 540, 480, 420, 360, 300]],
  [19.1, [900, 840, 780, 700, 620, 560, 480, 400, 330, 270]],
  [19.4, [1040, 960, 880, 800, 720, 640, 560, 480, 400, 320, 270]],
  [19.7, [1330, 1180, 1020, 950, 880, 800, 720, 640, 560, 480, 400, 270]],
  [20.0, [1120, 1060, 980, 900, 820, 740, 660, 580, 500, 420, 270]],
  [20.3, [1100, 1000, 900, 800, 720, 640, 560, 480, 400, 260]],
  [20.6, [860, 780, 700, 620, 540, 460, 380, 260]], [20.9, [760, 680, 600, 520, 440, 370, 270]],
  [21.2, [640, 560, 480, 400, 330, 260]], [21.5, [600, 520, 440, 370, 300, 260]],
  [21.8, [740, 720, 500, 420, 350, 270]], [22.1, [450, 380, 310, 260, 230]], [22.4, [300, 270, 240, 200, 160]],
  [22.7, [320, 280, 240, 200]], [23.0, [300, 280, 260, 230]], [23.3, [340, 300, 280, 260]],
  [23.6, [480, 440, 400, 300, 270]], [23.9, [500, 460, 420, 380, 300]], [24.2, [470, 440, 410, 380]],
  [24.5, [440, 420, 400, 380]], [24.8, [450, 420, 400, 380]], [25.1, [560, 520, 480, 420, 400]],
  [25.4, [600, 580, 540, 500, 440, 410]], [25.7, [560, 520, 480, 430, 400]], [26.0, [440, 420, 400, 380]],
  [26.3, [420, 400, 380, 320, 300]], [26.6, [550, 500, 420, 400, 300, 280]],
  [26.9, [600, 560, 520, 440, 310, 290]], [27.2, [650, 620, 580, 540, 300, 280]],
  [27.5, [640, 600, 560, 320, 300]], [27.8, [840, 800, 760, 720, 680, 330, 300]],
  [28.1, [800, 760, 720, 680, 320, 300]], [28.4, [620, 580, 540, 500, 310, 290]],
  [28.7, [840, 800, 760, 720, 300, 280]], [29.0, [620, 580, 540, 500, 320, 300]],
  [29.3, [500, 460, 420, 330, 310]], [29.6, [520, 480, 440, 340, 320]], [29.9, [540, 500, 460, 350, 330]],
  [30.2, [520, 480, 440, 360, 340]], [30.5, [480, 440, 400, 370, 350]], [30.8, [460, 420, 380, 360]],
  [31.1, [440, 400, 370, 340]], [31.4, [420, 390, 360, 330]], [31.7, [450, 420, 380, 340]],
  [32.0, [440, 410, 380, 350]], [32.3, [420, 390, 360, 320]], [32.6, [580, 420, 380, 340, 290]],
  [32.9, [380, 340, 300, 260]], [33.2, [400, 350, 300, 250, 200]], [33.5, [420, 360, 300, 240, 180]],
  [33.8, [400, 340, 280, 220, 180]],
];

// ---------- NO (pptv) ----------
const noA: Column[] = [
  [-22.2, [100, 80, 50, 30]], [-21.8, [60, 40, 25]], [-21.4, [40, 25, 15]], [-21.0, [30, 20, 10]], [-20.5, [25, 15]],
  [-19.5, [20, 12]], [-18.5, [30, 20]], [-18.0, [90, 70, 50]], [-17.6, [100, 80, 60]], [-17.2, [150, 120, 90]],
  [-16.8, [60, 40, 25]], [-16.4, [50, 35, 20]], [-16.0, [80, 50, 30]], [-15.6, [100, 70, 40]],
  [-15.2, [130, 100, 60]], [-14.8, [120, 90, 60]], [-14.5, [210, 180, 120, 80]], [-14.2, [100, 70, 40]],
  [-13.8, [60, 40, 20]], [-13.4, [50, 30, 15]], [-13.0, [40, 25, 12]], [-12.5, [30, 20, 10]], [-12.0, [25, 15]],
  [-11.5, [30, 20]], [-11.0, [25, 15]], [-10.0, [20, 12]], [-9.0, [25, 15]], [-8.0, [20, 12]], [-6.0, [15, 8]],
  [-4.0, [15, 8]],
  [-1.2, [1370, 1350, 1330, 1290, 1250, 1075, 760, 470, 280, 210, 190, 170, 150, 130, 110, 90, 70, 50, 30]],
  [-0.8, [40, 25, 15]], [-0.4, [30, 20, 10]], [0.0, [25, 15, 5]], [0.4, [70, 50, 30, 15]], [0.8, [80, 60, 40, 20]],
  [1.2, [50, 30, 15]], [1.6, [40, 25, 10]], [2.0, [35, 20, 10]], [2.4, [45, 30, 15]], [2.8, [50, 35, 20]],
  [3.2, [45, 30, 15]], [3.6, [40, 25, 12]], [4.0, [35, 22, 10]], [4.4, [30, 20, 10]], [5.0, [28, 18, 8]],
  [5.5, [30, 20, 10]], [6.0, [28, 18, 8]], [6.5, [30, 20, 10]], [7.0, [28, 18, 8]], [7.5, [32, 20, 10]],
  [8.0, [30, 20, 10]], [8.5, [35, 22, 12]], [9.0, [30, 20, 10]], [9.5, [28, 18, 8]], [10.0, [25, 15, 8]],
  [10.5, [30, 20, 10]], [11.0, [35, 22, 12]], [11.5, [30, 20, 10]], [12.0, [35, 22, 12]], [12.5, [40, 28, 15]],
  [13.0, [45, 30, 18]], [13.5, [40, 28, 15]], [14.0, [30, 20, 10]],
  [16.2, [40, 25, 10]], [16.6, [50, 30, 15]], [17.0, [60, 40, 20]], [17.4, [70, 50, 30]], [17.8, [80, 60, 40, 20]],
  [18.2, [70, 50, 30]], [18.6, [60, 40, 25]], [18.8, [560, 410]], [19.0, [260, 230, 60, 40]],
  [19.3, [250, 220, 50, 35]], [19.6, [270, 240, 45, 30]], [19.9, [280, 250, 40, 25]], [20.2, [300, 270, 35, 25]],
  [20.5, [310, 290, 35, 25]], [20.8, [280, 240, 30, 20]], [21.1, [220, 180, 30, 20]], [21.4, [160, 120, 30, 20]],
  [21.7, [100, 70, 30, 20]], [22.0, [60, 45, 30]], [22.4, [45, 35, 25]], [22.8, [50, 40, 30]], [23.2, [70, 50, 35]],
  [23.6, [120, 90, 60, 40]], [24.0, [160, 130, 100, 60]], [24.4, [170, 140, 110, 70]], [24.8, [150, 120, 90, 60]],
  [25.2, [130, 100, 70, 40]], [25.6, [110, 80, 60, 40]], [26.0, [585, 100, 70, 45]], [26.4, [80, 60, 40]],
  [26.8, [60, 45, 30]], [27.2, [55, 40, 25]], [27.6, [50, 35, 22]], [28.0, [55, 40, 25]], [28.4, [50, 35, 22]],
  [28.8, [48, 32, 20]], [29.2, [50, 35, 22]], [29.6, [55, 40, 25]], [30.0, [60, 45, 30]], [30.4, [70, 50, 35]],
  [30.8, [80, 60, 40]], [31.2, [85, 65, 45]], [31.6, [100, 75, 50]], [32.0, [120, 90, 60]],
  [32.4, [140, 110, 80]], [32.8, [200, 180, 150, 110, 70]], [33.2, [190, 160, 120, 80, 40]],
  [33.6, [100, 70, 40, 10]], [34.0, [60, 40, 20]], [36.2, [70, 50, 30]], [36.6, [60, 40, 20]], [37.0, [50, 30, 15]],
  [37.4, [40, 25, 10]], [37.8, [100, 60, 30, 10]], [38.0, [200, 150, 100, 60]], [38.2, [230, 220, 200, 180]],
  [38.4, [470, 450, 220, 210]],
];

const noB: Column[] = [
  [-28.3, [150, 140, 120, 100, 80, 60, 40, 20]], [-28.0, [90, 80, 70, 40, 30, 20]], [-27.6, [85, 80, 75, 70]],
  [-27.2, [90, 85, 80, 75]], [-26.8, [140, 130, 120, 90, 85, 80]], [-26.4, [135, 125, 85, 80, 75]],
  [-26.0, [80, 75, 70]], [-25.6, [82, 78, 74]], [-25.2, [80, 76, 72]], [-24.8, [78, 74, 70]], [-24.4, [80, 76, 72]],
  [-24.0, [78, 74, 70]], [-23.6, [76, 72, 68]], [-23.2, [78, 74, 70]], [-22.8, [80, 76, 72]],
  [-22.4, [150, 140, 130, 90, 80]], [-22.0, [150, 140, 120, 100]], [-21.6, [140, 120, 60, 40]],
  [-21.2, [80, 50, 35, 25]], [-20.8, [50, 40, 30]], [-20.4, [45, 35, 25]], [-20.0, [40, 30, 25]],
  [-19.6, [45, 35, 25]], [-19.2, [50, 40, 30]], [-18.8, [45, 35, 25]], [-18.4, [60, 45, 30]], [-18.0, [50, 40, 30]],
  [-17.6, [60, 45, 35]], [-17.2, [100, 80, 60, 40]], [-16.8, [200, 150, 120, 100, 80, 60, 40]],
  [-16.5, [160, 140, 120, 100, 80, 60, 40]], [-16.2, [180, 150, 130, 110, 90, 70, 50]],
  [-15.9, [170, 140, 120, 100, 80, 60, 40]], [-15.6, [250, 200, 160, 130, 110, 90, 70, 50]],
  [-15.3, [160, 140, 120, 100, 80, 60, 40]], [-15.0, [150, 130, 110, 90, 70, 50]],
  [-14.7, [180, 150, 130, 110, 90, 70, 50]], [-14.4, [300, 200, 170, 140, 120, 100, 80, 60, 40]],
  [-14.1, [220, 180, 150, 120, 100, 80, 60]], [-13.8, [140, 120, 100, 80, 60, 40]],
  [-13.5, [120, 100, 80, 60, 40]], [-13.2, [100, 80, 60, 40]], [-12.8, [90, 70, 50, 35]], [-12.4, [80, 60, 45, 30]],
  [-12.0, [70, 55, 40, 30]], [-11.6, [60, 50, 40]], [-11.2, [55, 45, 35]], [-10.8, [50, 40, 30]],
  [-10.4, [45, 35, 28]], [-10.0, [40, 32, 25]], [-9.6, [42, 34, 26]], [-9.2, [40, 30, 24]], [-8.8, [45, 35, 25]],
  [-8.4, [300, 220, 200, 180, 150, 120, 100, 80, 60]], [-8.0, [70, 50, 35]], [-7.6, [40, 30, 22]],
  [-7.2, [38, 28, 20]], [-6.8, [35, 27, 20]], [-6.4, [38, 28, 20]], [-6.0, [35, 26, 18]], [-5.6, [32, 24, 18]],
  [-5.2, [34, 25, 18]], [-4.8, [32, 24, 16]], [-4.4, [30, 22, 15]], [-4.0, [32, 24, 16]], [-3.6, [50, 35, 24]],
  [-3.2, [130, 100, 80, 60, 40, 25]], [-2.8, [80, 60, 40, 25]],
  [-2.5, [320, 250, 220, 200, 170, 140, 110, 80, 50]], [-2.2, [180, 140, 100, 60, 30]], [-1.8, [60, 40, 25]],
  [-1.4, [40, 30, 20]], [-1.0, [35, 25, 18]], [-0.6, [38, 28, 20]], [-0.2, [45, 32, 22]], [0.2, [50, 36, 24]],
  [0.6, [45, 32, 22]], [1.0, [48, 34, 22]], [1.4, [44, 30, 20]], [1.8, [46, 32, 22]], [2.2, [42, 30, 20]],
  [2.6, [44, 30, 20]], [3.0, [40, 28, 18]], [3.4, [42, 30, 20]], [3.8, [38, 26, 18]], [4.2, [40, 28, 18]],
  [4.6, [38, 26, 16]], [5.0, [36, 26, 16]], [5.4, [38, 26, 16]], [5.8, [40, 28, 18]], [6.2, [42, 30, 20]],
  [6.6, [44, 32, 22]], [7.0, [40, 28, 18]], [7.4, [45, 32, 20]], [7.8, [42, 30, 20]], [8.2, [38, 26, 16]],
  [8.6, [36, 25, 16]], [9.0, [38, 26, 16]], [9.4, [40, 28, 18]], [9.8, [50, 35, 22]], [10.2, [80, 60, 40, 25]],
  [10.6, [110, 90, 70, 50, 30]], [11.0, [130, 110, 90, 70, 50, 30]], [11.4, [120, 100, 80, 60, 40]],
  [11.8, [100, 80, 60, 40]], [12.2, [90, 75, 55, 35]], [12.6, [80, 65, 50, 30]], [13.0, [75, 60, 45, 28]],
  [13.4, [70, 55, 40]], [13.8, [50, 35, 22]], [14.2, [35, 25]],
  [15.9, [150, 120, 90, 60, 30]], [16.2, [200, 160, 120, 80, 40, 20]],
  [16.5, [290, 270, 230, 190, 150, 110, 70, 30]], [16.8, [200, 160, 120, 80, 40]],
  [17.1, [180, 140, 100, 60, 30]], [17.4, [220, 180, 140, 100, 60]], [17.7, [240, 200, 160, 120, 80, 40]],
  [18.0, [250, 210, 170, 130, 90, 50]], [18.3, [280, 240, 200, 160, 120, 80]],
  [18.6, [300, 260, 220, 180, 140, 100]], [18.9, [350, 320, 280, 240, 200, 160, 120]],
  [19.2, [800, 760, 400, 360, 320, 280, 240, 200, 150]],
  [19.5, [780, 740, 700, 660, 620, 560, 500, 440, 380, 320, 260, 200]],
  [19.8, [950, 680, 640, 600, 560, 520, 480, 440, 400, 350, 300, 60]],
  [20.0, [1045, 720, 660, 600, 540, 480, 420, 360, 300, 50]],
  [20.3, [780, 740, 700, 640, 580, 520, 460, 400, 350, 300, 45]],
  [20.5, [920, 900, 850, 800, 760, 500, 450, 400, 350, 300, 40]],
  [20.8, [560, 520, 480, 440, 400, 360, 320, 40]], [21.1, [540, 500, 460, 420, 380, 340, 300, 35]],
  [21.4, [440, 400, 360, 320, 280, 35]], [21.8, [350, 300, 250, 200, 150, 30]],
  [22.1, [540, 320, 260, 200, 140, 30]], [22.4, [150, 100, 60, 35]], [22.7, [120, 90, 60, 30]],
  [23.0, [130, 100, 70, 40]], [23.3, [140, 110, 80, 50]], [23.6, [150, 120, 90, 50]], [23.9, [140, 110, 80, 45]],
  [24.2, [150, 120, 90, 50]], [24.5, [160, 130, 100, 50]], [24.8, [180, 150, 120, 50]],
  [25.1, [200, 170, 140, 45]], [25.4, [190, 160, 130, 45]], [25.7, [170, 140, 110, 45]],
  [26.0, [150, 120, 90, 45]], [26.3, [160, 130, 100, 40]], [26.6, [180, 150, 120, 40]],
  [26.9, [220, 190, 160, 45]], [27.2, [260, 220, 180, 45]], [27.5, [340, 320, 290, 250, 210, 170, 45]],
  [27.8, [330, 300, 270, 230, 190, 45]], [28.1, [280, 240, 200, 160, 45]], [28.4, [230, 200, 170, 140, 45]],
  [28.7, [200, 170, 140, 45]], [29.0, [180, 150, 120, 45]], [29.3, [160, 130, 100, 45]],
  [29.6, [150, 120, 90, 45]], [29.9, [140, 110, 80, 45]], [30.2, [150, 120, 90, 50]], [30.5, [140, 110, 80, 50]],
  [30.8, [130, 100, 70, 50]], [31.1, [120, 90, 60]], [31.4, [110, 80, 55]], [31.7, [100, 75, 50]],
  [32.0, [120, 90, 60]], [32.3, [130, 100, 70]], [32.6, [220, 180, 140, 100, 60]], [32.9, [200, 150, 100, 60]],
  [33.2, [120, 80, 50]], [33.5, [90, 60, 40]], [33.8, [70, 50, 30]],
];

// ---------- C2H6 (pptv): individual canister samples ----------
const c2h6A: Pt[] = [
  [-21.8, 388], [-21.6, 369], [-21.5, 361], [-21.3, 338], [-21.2, 322], [-21.1, 385], [-20.9, 366], [-20.8, 346],
  [-20.7, 325], [-20.5, 341], [-20.4, 322], [-20.1, 380], [-19.6, 382], [-18.7, 372], [-17.5, 330], [-16.9, 330],
  [-16.4, 361], [-16.1, 361], [-15.9, 393], [-15.8, 393], [-15.6, 551], [-15.4, 788], [-15.2, 512], [-15.1, 551],
  [-14.9, 677], [-14.7, 591], [-14.5, 512], [-14.4, 556], [-14.2, 504], [-14.1, 456], [-13.8, 606], [-13.6, 543],
  [-13.5, 440], [-13.4, 361], [-13.1, 448], [-13.0, 401], [-12.8, 451], [-12.6, 456], [-12.3, 385], [-12.1, 382],
  [-11.2, 295], [-10.4, 270], [-9.3, 274], [-8.2, 277], [-7.1, 281], [-5.5, 270], [-4.8, 270], [-3.6, 274],
  [-0.8, 662], [-0.8, 641], [-0.8, 591], [-0.8, 433], [-0.8, 388], [-0.8, 350], [-0.8, 338], [-0.8, 322],
  [-0.8, 306], [-0.8, 290], [-0.1, 353], [0.3, 274], [0.7, 330], [1.0, 266], [1.1, 325], [1.7, 319], [2.1, 274],
  [2.5, 377], [3.0, 322], [3.3, 274], [3.8, 338], [4.1, 282], [4.4, 330], [4.7, 290], [5.6, 298], [6.0, 335],
  [6.9, 314], [7.2, 309], [7.7, 298], [7.9, 335], [8.2, 322], [8.7, 322], [9.4, 319], [10.6, 369], [10.7, 330],
  [11.6, 309], [12.3, 353], [12.9, 335], [14.1, 293], [16.0, 372], [16.2, 369], [16.3, 298], [16.4, 282],
  [16.6, 290], [17.0, 338], [17.3, 361], [17.6, 346], [17.9, 425], [18.1, 472], [18.2, 488], [18.5, 330],
  [18.7, 559], [19.1, 559], [19.5, 330], [19.7, 353], [19.8, 512], [20.2, 519], [20.4, 338], [20.8, 330],
  [21.1, 448], [21.4, 330], [21.6, 330], [21.8, 535], [22.2, 456], [22.6, 451], [22.9, 361], [23.1, 425],
  [23.4, 404], [23.7, 425], [24.0, 614], [24.2, 448], [24.5, 546], [24.9, 519], [25.3, 432], [25.6, 488],
  [25.9, 512], [26.2, 567], [26.6, 527], [26.7, 926], [27.1, 1096], [27.2, 393], [27.7, 1081], [28.2, 1073],
  [28.6, 338], [28.8, 1081], [29.0, 346], [29.1, 1046], [29.7, 1010], [29.7, 459], [30.1, 357], [30.2, 951],
  [30.7, 930], [30.8, 335], [31.1, 888], [31.3, 330], [31.7, 848], [32.0, 341], [32.2, 962], [32.4, 504],
  [32.7, 1057], [32.9, 437], [33.3, 1266], [33.5, 432], [33.7, 693], [34.2, 704], [37.9, 409], [38.2, 338],
  [38.6, 469],
];

const c2h6B: Pt[] = [
  [-28.0, 508], [-27.8, 527], [-26.8, 508], [-26.9, 488], [-27.9, 388], [-27.4, 398], [-27.5, 341], [-27.8, 309],
  [-27.5, 290], [-26.5, 407], [-25.7, 459], [-25.3, 472], [-24.5, 436], [-24.1, 456], [-23.1, 432], [-22.8, 443],
  [-22.0, 440], [-21.6, 440], [-20.9, 428], [-20.5, 277], [-19.3, 293], [-18.1, 361], [-16.9, 243], [-16.6, 448],
  [-16.4, 493], [-16.3, 448], [-16.3, 369], [-16.1, 338], [-15.9, 322], [-15.7, 267], [-15.4, 361], [-15.3, 309],
  [-15.0, 432], [-14.8, 693], [-14.7, 448], [-14.5, 361], [-14.4, 267], [-14.2, 417], [-14.0, 361], [-13.8, 330],
  [-13.7, 274], [-13.6, 322], [-13.4, 361], [-13.2, 377], [-13.0, 401], [-12.7, 354], [-12.5, 388], [-11.7, 437],
  [-11.1, 425], [-11.1, 325], [-10.4, 274], [-9.7, 255], [-8.2, 258], [-7.7, 266], [-7.1, 274], [-6.1, 251],
  [-5.5, 266], [-4.8, 255], [-3.6, 258], [-3.4, 290], [-3.2, 317], [-2.5, 322], [-2.2, 258], [-2.1, 309],
  [-1.7, 290], [-1.5, 277], [-0.9, 255], [-0.5, 243], [-0.1, 277], [0.3, 251], [0.8, 258], [1.3, 266], [1.9, 266],
  [2.9, 266], [3.6, 277], [4.9, 274], [5.4, 255], [6.6, 255], [7.8, 255], [8.7, 277], [10.3, 240], [11.4, 255],
  [12.1, 277], [12.7, 255], [13.0, 290], [14.0, 266], [16.1, 314], [16.3, 243], [16.4, 235], [16.6, 274],
  [16.7, 322], [17.0, 369], [17.4, 414], [17.6, 432], [17.8, 385], [18.2, 393], [18.6, 414], [19.2, 330],
  [19.5, 440], [19.7, 298], [20.0, 306], [20.3, 496], [20.5, 488], [20.8, 508], [21.1, 306], [21.4, 488],
  [21.9, 504], [22.2, 317], [22.5, 504], [22.6, 401], [22.9, 527], [23.1, 404], [23.4, 488], [23.7, 527],
  [24.0, 535], [24.2, 556], [24.7, 556], [24.9, 551], [25.2, 635], [25.4, 551], [25.6, 546], [26.0, 575],
  [26.4, 594], [26.8, 583], [27.3, 594], [27.5, 619], [27.7, 583], [28.1, 583], [28.4, 583], [28.6, 657],
  [28.8, 578], [29.3, 594], [29.7, 603], [30.1, 594], [30.4, 599], [30.8, 599], [30.9, 714], [31.3, 535],
  [31.8, 556], [32.0, 425], [32.2, 588], [32.6, 583], [32.9, 578], [33.1, 322], [33.3, 559], [33.4, 535],
  [33.7, 420], [34.0, 504], [37.5, 603], [37.8, 572], [38.1, 594], [38.3, 559], [38.6, 588], [38.9, 630],
  [38.8, 583],
];

// ---------- C3H8 (pptv) ----------
const c3h8A: Pt[] = [
  [-21.9, 81], [-21.6, 98], [-21.9, 39], [-21.7, 43], [-21.5, 38], [-21.4, 59], [-21.3, 40], [-21.1, 53],
  [-20.9, 86], [-20.8, 81], [-20.9, 31], [-20.7, 31], [-20.5, 33], [-20.3, 69], [-19.6, 53], [-18.9, 61],
  [-18.1, 69], [-17.7, 72], [-17.3, 56], [-17.0, 34], [-16.4, 66], [-16.3, 54], [-16.1, 70], [-15.9, 34],
  [-15.8, 40], [-15.7, 66], [-15.5, 47], [-15.4, 43], [-15.2, 31], [-15.1, 36], [-14.9, 47], [-14.8, 20],
  [-14.7, 42], [-14.5, 31], [-14.4, 47], [-14.3, 30], [-14.0, 46], [-13.8, 38], [-13.7, 30], [-13.2, 62],
  [-13.1, 137], [-13.1, 133], [-13.0, 126], [-12.9, 118], [-12.8, 111], [-12.8, 104], [-12.7, 91], [-12.8, 81],
  [-12.8, 74], [-12.7, 55], [-12.6, 58], [-12.2, 36], [-11.3, 18], [-10.3, 7], [-9.3, 10], [-7.0, 17], [-4.9, 8],
  [-3.8, 9], [-0.9, 105], [-0.9, 85], [-0.9, 81], [-0.9, 70], [-0.9, 66], [-0.9, 58], [-0.9, 51], [-0.9, 46],
  [-0.9, 32], [-0.9, 18], [-0.2, 70], [0.4, 75], [0.5, 11], [0.8, 7], [0.9, 10], [1.3, 14], [1.6, 18], [2.6, 91],
  [3.1, 66], [3.3, 11], [3.8, 99], [4.3, 14], [4.8, 13], [5.7, 13], [7.0, 11], [8.0, 24], [8.9, 14], [10.5, 30],
  [11.5, 11], [16.1, 46], [16.3, 10], [16.5, 15], [16.9, 18], [17.2, 46], [17.5, 64], [17.9, 91], [18.1, 73],
  [18.5, 87], [17.9, 19], [18.4, 14], [18.8, 58], [19.1, 14], [19.5, 23], [19.6, 69], [19.9, 18], [20.2, 69],
  [20.6, 69], [21.0, 15], [21.0, 62], [21.3, 17], [21.8, 78], [22.1, 98], [22.1, 11], [22.3, 74], [22.6, 18],
  [22.9, 78], [23.2, 43], [23.6, 93], [23.7, 32], [24.0, 94], [24.1, 34], [24.5, 94], [25.1, 64], [25.4, 35],
  [25.6, 83], [25.7, 43], [26.1, 77], [26.3, 60], [26.6, 141], [27.0, 235], [27.1, 20], [27.5, 207], [28.1, 198],
  [28.5, 11], [28.6, 228], [28.9, 17], [29.1, 221], [29.5, 31], [29.6, 173], [30.0, 173], [30.0, 26], [30.4, 173],
  [30.5, 15], [31.1, 15], [31.2, 148], [31.6, 142], [31.8, 9], [32.1, 161], [32.4, 41], [32.6, 194], [32.7, 40],
  [33.1, 243], [33.3, 26], [33.6, 82], [34.1, 83], [37.8, 24], [38.1, 22], [38.4, 26],
];

const c3h8B: Pt[] = [
  [-28.0, 59], [-27.9, 50], [-27.8, 38], [-27.9, 30], [-27.7, 26], [-27.5, 53], [-27.4, 41], [-27.1, 51],
  [-26.9, 41], [-26.7, 41], [-26.4, 65], [-25.7, 62], [-25.3, 82], [-24.5, 69], [-24.1, 80], [-23.2, 60],
  [-22.8, 70], [-21.9, 68], [-20.9, 57], [-20.8, 50], [-20.5, 26], [-19.3, 24], [-18.0, 38], [-16.9, 17],
  [-16.7, 24], [-16.6, 38], [-16.4, 43], [-16.3, 28], [-16.2, 76], [-16.2, 30], [-16.0, 20], [-15.9, 51],
  [-15.8, 26], [-15.6, 13], [-15.5, 31], [-15.4, 36], [-15.2, 54], [-15.1, 43], [-14.8, 100], [-14.7, 59],
  [-14.6, 11], [-14.5, 62], [-14.4, 43], [-14.3, 56], [-14.2, 40], [-14.0, 41], [-13.8, 37], [-13.7, 59],
  [-13.6, 40], [-13.6, 30], [-13.4, 31], [-13.3, 36], [-13.2, 43], [-13.1, 34], [-12.9, 40], [-12.7, 42],
  [-12.6, 35], [-12.3, 52], [-11.8, 59], [-11.1, 39], [-11.1, 33], [-10.4, 18], [-9.8, 15], [-8.5, 14], [-7.9, 11],
  [-7.4, 15], [-7.2, 24], [-6.7, 10], [-6.2, 14], [-5.5, 14], [-4.9, 9], [-3.9, 15], [-3.4, 26], [-3.2, 24],
  [-2.9, 22], [-2.5, 20], [-2.4, 9], [-2.1, 34], [-2.0, 18], [-1.7, 20], [-1.6, 14], [-1.1, 14], [-0.6, 13],
  [-0.1, 15], [0.2, 13], [0.6, 11], [0.9, 15], [1.7, 18], [2.1, 17], [2.7, 13], [3.5, 18], [4.2, 13], [4.9, 15],
  [5.4, 13], [6.5, 11], [7.9, 9], [8.7, 11], [10.2, 17], [11.3, 10], [12.1, 24], [12.8, 19], [13.9, 9],
  [16.0, 24], [16.1, 18], [16.2, 14], [16.3, 22], [16.3, 11], [16.5, 30], [16.7, 24], [16.9, 41], [17.0, 18],
  [17.3, 42], [17.5, 57], [17.5, 32], [17.9, 30], [18.3, 28], [18.5, 19], [18.8, 34], [19.0, 18], [19.3, 48],
  [19.6, 22], [19.9, 20], [20.1, 58], [20.4, 59], [20.7, 60], [21.0, 54], [21.3, 58], [21.5, 55], [21.9, 53],
  [22.1, 32], [22.2, 62], [22.8, 70], [23.0, 28], [23.2, 49], [23.4, 49], [23.7, 49], [24.1, 36], [24.3, 60],
  [24.5, 53], [24.8, 53], [25.2, 53], [25.5, 52], [25.7, 55], [26.1, 74], [26.3, 76], [26.6, 77], [27.0, 86],
  [27.3, 68], [27.5, 79], [27.9, 87], [28.2, 79], [28.5, 70], [28.8, 86], [29.2, 85], [29.5, 86], [29.6, 60],
  [29.9, 81], [30.3, 86], [30.5, 77], [30.8, 76], [31.1, 51], [31.4, 50], [31.9, 38], [32.2, 62], [32.5, 66],
  [32.7, 65], [32.9, 20], [33.0, 72], [33.3, 59], [33.6, 41], [33.7, 59], [37.5, 87], [37.8, 87], [38.0, 87],
  [38.2, 85], [38.3, 69], [38.5, 80], [38.6, 76], [38.7, 99],
];

const flatten = (cols: Column[]): Pt[] => cols.flatMap(([lat, vals]) => vals.map((v) => [lat, v] as Pt));

// Panel layout (pixel boxes of each plotting frame) and axis settings
const COL_L = [92, 657];
const COL_W = [464, 465];
const ROW_T = [97.5, 421.5, 749.5];
const ROW_H = [251.5, 252, 252.5];
const TICK_MARGIN = [7, 7, 5];
const TICK_SIZE = [17, 17, 16];
const NAME_OFFSET = [39, 39, 34.5];
const NAME_SIZE = [17, 17, 15];

const panels = [
  {
    col: 0, row: 0, yMin: 0, yMax: 140, yStep: 20, yMinor: 4, a: flatten(o3A), b: flatten(o3B), dot: 4.5,
    label: '{m|O}{s|3}', labelPos: [125, 131], yName: '{m|O}{s|3}{m| (ppbv)}', namePos: [36, 228],
  },
  {
    col: 1, row: 0, yMin: 50, yMax: 300, yStep: 50, yMinor: 5, a: flatten(coA), b: flatten(coB), dot: 4.5,
    label: '{m|CO}', labelPos: [687, 136], yName: '{m|CO (ppbv)}', namePos: [596, 228],
  },
  {
    col: 0, row: 1, yMin: 0, yMax: 1400, yStep: 200, yMinor: 4, a: flatten(noyA), b: flatten(noyB), dot: 4.5,
    label: '{m|NO}{s|y}', labelPos: [124, 459], yName: '{m|NO}{s|y}{m| (pptv)}', namePos: [22, 544],
  },
  {
    col: 1, row: 1, yMin: 0, yMax: 1400, yStep: 200, yMinor: 4, a: flatten(noA), b: flatten(noB), dot: 4.5,
    label: '{m|NO}', labelPos: [689, 459], yName: '{m|NO (pptv)}', namePos: [588, 543],
  },
  {
    col: 0, row: 2, yMin: 200, yMax: 1400, yStep: 200, yMinor: 4, a: c2h6A, b: c2h6B, dot: 4,
    label: '{m|C}{s|2}{m|H}{s|6}', labelPos: [126, 791], yName: '{m|C}{s|2}{m|H}{s|6}{m| (pptv)}', namePos: [22, 875],
  },
  {
    col: 1, row: 2, yMin: 0, yMax: 300, yStep: 50, yMinor: 5, a: c3h8A, b: c3h8B, dot: 4,
    label: '{m|C}{s|3}{m|H}{s|8}', labelPos: [691, 791], yName: '{m|C}{s|3}{m|H}{s|8}{m| (pptv)}', namePos: [596, 877],
  },
];

const labelRich = {
  m: { fontSize: 23, lineHeight: 28, verticalAlign: 'top', fontFamily: FONT, color: INK },
  s: { fontSize: 15, lineHeight: 16, padding: [17, 1, 0, 3], verticalAlign: 'top', fontFamily: FONT, color: INK },
};
const nameRich = {
  m: { fontSize: 17, lineHeight: 20, verticalAlign: 'top', fontFamily: FONT, color: INK },
  s: { fontSize: 11, lineHeight: 12, padding: [12, 2, 0, 2], verticalAlign: 'top', fontFamily: FONT, color: INK },
};

function frameAxis(extra: Record<string, unknown>, minorSplit: number, labelMargin: number | null, labelSize = 17) {
  return {
    type: 'value',
    ...extra,
    splitLine: { show: false },
    minorSplitLine: { show: false },
    axisLine: { show: true, onZero: false, lineStyle: { color: INK, width: 2 } },
    axisTick: { show: true, inside: true, length: 13, lineStyle: { color: INK, width: 1.6 } },
    minorTick: { show: true, splitNumber: minorSplit, length: 7, lineStyle: { color: INK, width: 1.4 } },
    axisLabel: labelMargin !== null
      ? {
        show: true, margin: labelMargin, fontSize: labelSize, lineHeight: labelSize, color: INK, fontFamily: FONT,
        formatter: (v: number) => String(v),
      }
      : { show: false },
  };
}

function buildOption() {
  const grid = panels.map((p) => ({
    left: COL_L[p.col], top: ROW_T[p.row], width: COL_W[p.col], height: ROW_H[p.row], containLabel: false,
  }));
  const xAxis = panels.flatMap((p, i) => {
    const base = { gridIndex: i, min: latTicks.min, max: latTicks.max, interval: latTicks.step };
    return [
      frameAxis({ ...base, position: 'bottom' }, 5, TICK_MARGIN[p.row], TICK_SIZE[p.row]),
      frameAxis({ ...base, position: 'top' }, 5, null),
    ];
  });
  const yAxis = panels.flatMap((p, i) => {
    const base = { gridIndex: i, min: p.yMin, max: p.yMax, interval: p.yStep };
    return [
      frameAxis({ ...base, position: 'left' }, p.yMinor, 9),
      frameAxis({ ...base, position: 'right' }, p.yMinor, null),
    ];
  });
  const series = panels.flatMap((p, i) => [
    {
      type: 'scatter', name: 'BIBLE-A', xAxisIndex: 2 * i, yAxisIndex: 2 * i, data: p.a,
      symbol: 'circle', symbolSize: p.dot, itemStyle: { color: RED }, silent: true,
    },
    {
      type: 'scatter', name: 'BIBLE-B', xAxisIndex: 2 * i, yAxisIndex: 2 * i, data: p.b,
      symbol: 'circle', symbolSize: p.dot, itemStyle: { color: BLUE }, silent: true,
    },
  ]);

  const graphic: any[] = [
    {
      type: 'text', x: 333, y: 48,
      style: { text: 'Above 8 km', fontSize: 40, fontFamily: FONT, fill: INK, align: 'left', verticalAlign: 'middle' },
    },
    { type: 'circle', shape: { cx: 640, cy: 24, r: 1.8 }, style: { fill: RED } },
    {
      type: 'text', x: 694, y: 26,
      style: { text: 'BIBLE-A', fontSize: 30, fontFamily: FONT, fill: RED, align: 'left', verticalAlign: 'middle' },
    },
    { type: 'circle', shape: { cx: 640, cy: 62, r: 1.8 }, style: { fill: BLUE } },
    {
      type: 'text', x: 694, y: 63,
      style: { text: 'BIBLE-B', fontSize: 30, fontFamily: FONT, fill: BLUE, align: 'left', verticalAlign: 'middle' },
    },
  ];

  panels.forEach((p) => {
    const left = COL_L[p.col];
    const bottom = ROW_T[p.row] + ROW_H[p.row];
    graphic.push({
      type: 'text', x: p.labelPos[0], y: p.labelPos[1],
      style: { text: p.label, rich: labelRich, align: 'left', verticalAlign: 'middle', fill: INK },
    });
    graphic.push({
      type: 'text', x: p.namePos[0], y: p.namePos[1], rotation: Math.PI / 2,
      style: { text: p.yName, rich: nameRich, align: 'center', verticalAlign: 'middle', fill: INK },
    });
    graphic.push({
      type: 'text', x: left + COL_W[p.col] / 2 - 8, y: bottom + NAME_OFFSET[p.row],
      style: {
        text: 'Latitude ( °N)', fontSize: NAME_SIZE[p.row], lineHeight: NAME_SIZE[p.row], fontFamily: FONT, fill: INK,
        align: 'center', verticalAlign: 'middle',
      },
    });
  });

  return {
    animation: false,
    backgroundColor: '#ffffff',
    grid,
    xAxis,
    yAxis,
    series,
    graphic,
  };
}

export default function App() {
  const ref = useRef<HTMLDivElement>(null);
  useEffect(() => {
    if (!ref.current) return undefined;
    const chart = echarts.init(ref.current, undefined, { renderer: 'svg' });
    chart.setOption(buildOption() as any);
    return () => chart.dispose();
  }, []);
  return (
    <div
      ref={ref}
      style={{ position: 'absolute', left: 0, top: 0, width: 1135, height: 1047, background: '#ffffff' }}
    />
  );
}
